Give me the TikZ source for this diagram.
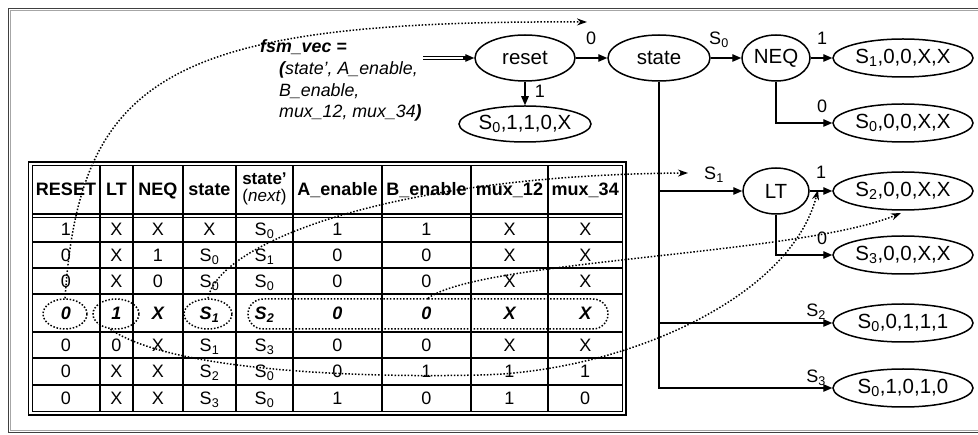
\documentclass[tikz,border=0pt]{standalone}
\usepackage{fontspec}
\setmainfont{Liberation Sans}
\usetikzlibrary{arrows.meta,shapes.geometric,shapes.misc}
\begin{document}
\begin{tikzpicture}[x=1pt,y=-1pt,
  st/.style={draw, ellipse, line width=1.5pt, inner sep=0pt, font=\fontsize{20.5}{22}\selectfont},
  res/.style={st, minimum width=140, minimum height=38},
  ctl/.style={st, minimum height=46},
  arr/.style={line width=1.3pt, -{Triangle[length=9pt,width=7.5pt]}},
  lbl/.style={anchor=base, inner sep=0pt, font=\fontsize{18}{20}\selectfont},
  dotline/.style={line width=1.5pt, dash pattern=on 1.5pt off 1.8pt},
  darr/.style={dotline, -{Stealth[length=10pt,width=7pt]}},
  cell/.style={anchor=base, inner sep=0pt, font=\fontsize{18}{20}\selectfont},
  bcell/.style={cell, font=\fontsize{18}{20}\selectfont\bfseries\itshape},
  hcell/.style={cell, font=\fontsize{18}{20}\selectfont\bfseries},
  tgrid/.style={line width=1.7pt},
  fsmt/.style={anchor=base west, inner sep=0pt, font=\fontsize{17.8}{20}\selectfont\itshape},
  hilite/.style={draw, dotline, inner sep=0pt, minimum height=30}
]
\useasboundingbox (0,0) rectangle (978,435);
% frame
\draw[line width=1.8pt, black!75] (978,8.5) -- (8.5,8.5) -- (8.5,432.5) -- (978,432.5);
\draw[line width=0.7pt, black!35] (978,10.6) -- (10.6,10.6) -- (10.6,430.4) -- (978,430.4);

% ---------- table ----------
\draw[line width=1.8pt] (28.5,162) rectangle (626,415);
\draw[line width=1.3pt] (32.5,165.5) rectangle (622.5,411.5);
\foreach \y in {214,217.5,242,268,294,332,358,385} \draw[tgrid] (32.5,\y) -- (622.5,\y);
\foreach \x in {100,133,183,236,293,382,471,548} \draw[tgrid] (\x,165.5) -- (\x,411.5);
\def\colx{{66,116.5,158,209.5,264.5,337.5,426.5,509.5,585.25}}

\node[hcell] (h1) at (66,195.5) {RESET};
\node[hcell] (h2) at (116.5,195.5) {LT};
\node[hcell] (h3) at (158,195.5) {NEQ};
\node[hcell] (h4) at (209.5,195.5) {state};
\node[align=center, inner sep=0pt, font=\fontsize{17}{17.5}\selectfont] (h5) at (264.5,189) {\textbf{state’}\\(\textit{next})};
\node[hcell] (h6) at (337.5,195.5) {A\_enable};
\node[hcell] (h7) at (426.5,195.5) {B\_enable};
\node[hcell] (h8) at (509.5,195.5) {mux\_12};
\node[hcell] (h9) at (585.25,195.5) {mux\_34};

\foreach \v [count=\c] in {1,X,X,X,S\textsubscript{0},1,1,X,X}
  \node[cell] (t1-\c) at ({\colx[\c-1]},236) {\v};
\foreach \v [count=\c] in {0,X,1,S\textsubscript{0},S\textsubscript{1},0,0,X,X}
  \node[cell] (t2-\c) at ({\colx[\c-1]},261.5) {\v};
\foreach \v [count=\c] in {0,X,0,S\textsubscript{0},S\textsubscript{0},0,0,X,X}
  \node[cell] (t3-\c) at ({\colx[\c-1]},287.5) {\v};
\foreach \v [count=\c] in {0,1,X,S\textsubscript{1},S\textsubscript{2},0,0,X,X}
  \node[bcell] (t4-\c) at ({\colx[\c-1]},319.5) {\v};
\foreach \v [count=\c] in {0,0,X,S\textsubscript{1},S\textsubscript{3},0,0,X,X}
  \node[cell] (t5-\c) at ({\colx[\c-1]},351.5) {\v};
\foreach \v [count=\c] in {0,X,X,S\textsubscript{2},S\textsubscript{0},0,1,1,1}
  \node[cell] (t6-\c) at ({\colx[\c-1]},378) {\v};
\foreach \v [count=\c] in {0,X,X,S\textsubscript{3},S\textsubscript{0},1,0,1,0}
  \node[cell] (t7-\c) at ({\colx[\c-1]},405) {\v};

% ---------- fsm_vec text ----------
\node[fsmt] (f1) at (260,52.5) {\bfseries fsm\_vec =};
\node[fsmt] (f2) at (279,75) {\textbf{(}state’, A\_enable,};
\node[fsmt] (f3) at (279,97) {B\_enable,};
\node[fsmt] (f4) at (279,118) {mux\_12, mux\_34\textbf{)}};

% ---------- state diagram ----------
\node[ctl, minimum width=100] (reset) at (525,58) {reset};
\node[ctl, minimum width=102] (state) at (659,58) {state};
\node[ctl, minimum width=68] (neq) at (776,58) {NEQ};
\node[ctl, minimum width=66] (lt) at (776,191) {LT};
\node[res, minimum width=132, minimum height=36] (r0) at (525,124) {S\textsubscript{0},1,1,0,X};
\node[res] (r1) at (903,58) {S\textsubscript{1},0,0,X,X};
\node[res] (r2) at (903,123) {S\textsubscript{0},0,0,X,X};
\node[res] (r3) at (903,191) {S\textsubscript{2},0,0,X,X};
\node[res] (r4) at (903,255) {S\textsubscript{3},0,0,X,X};
\node[res] (r5) at (903,323) {S\textsubscript{0},0,1,1,1};
\node[res] (r6) at (903,388) {S\textsubscript{0},1,0,1,0};

\coordinate (dstart) at (423,58);
\coordinate (dmid) at (466,58);
\coordinate (dhead) at (463,58);
\draw[double, double distance=2.6pt, line width=0.9pt] (dstart) -- (dmid);
\draw[arr] (dhead) -- (reset);

\draw[arr] (reset) -- (state);
\draw[arr] (reset) -- (r0);
\draw[arr] (state) -- (neq);
\draw[arr] (neq) -- (r1);
\draw[arr] (neq.south) |- (r2.west);
\draw[arr] (state.south) |- (lt.west);
\draw[arr] (state.south) |- (r5.west);
\draw[arr] (state.south) |- (r6.west);
\draw[arr] (lt) -- (r3);
\draw[arr] (lt.south) |- (r4.west);

\node[lbl] (l0) at (591,45) {0};
\node[lbl] (l1) at (540,98) {1};
\node[lbl] (ls0) at (719,45) {S\textsubscript{0}};
\node[lbl] (ln1) at (822,45) {1};
\node[lbl] (ln0) at (822,113) {0};
\node[lbl] (ls1) at (714,180) {S\textsubscript{1}};
\node[lbl] (ll1) at (821,179) {1};
\node[lbl] (ll0) at (822,245) {0};
\node[lbl] (ls2) at (816,317) {S\textsubscript{2}};
\node[lbl] (ls3) at (816,383) {S\textsubscript{3}};

% ---------- dotted highlights ----------
\node[hilite, ellipse, minimum width=44] (e0) at (65,314) {};
\node[hilite, ellipse, minimum width=46] (e1) at (116,314) {};
\node[hilite, ellipse, minimum width=48] (es1) at (208,314) {};
\node[hilite, rounded rectangle, minimum width=360] (rr) at (428,314) {};

\coordinate (c1end) at (587,22);
\coordinate (c2end) at (688,173);
\coordinate (c3end) at (901,213);
\coordinate (c4end) at (818,190);
\draw[darr] (e0.north) .. controls (80,75) and (170,20) .. (c1end);
\draw[darr] (es1.north) .. controls (220,240) and (400,175) .. (c2end);
\draw[darr] (rr.north) .. controls (480,260) and (800,255) .. (c3end);
\draw[darr] (e1.250) .. controls (170,370) and (350,378) .. (480,375)
                      .. controls (620,372) and (790,300) .. (c4end);
\end{tikzpicture}
\end{document}
